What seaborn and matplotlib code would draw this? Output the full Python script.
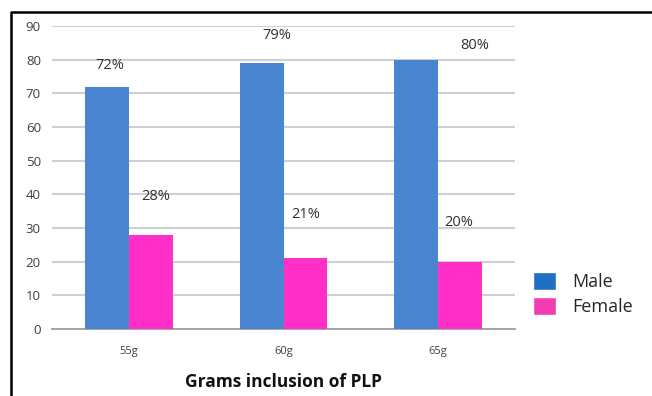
import pandas as pd
import seaborn as sns
import matplotlib.pyplot as plt
from matplotlib.lines import Line2D
from matplotlib.patches import Patch

# data
grams = ['55g', '60g', '65g']
male = [72, 79, 80]
female = [28, 21, 20]
male_labels = ['72%', '79%', '80%']
female_labels = ['28%', '21%', '20%']

# label offsets (x in category units, y in data units), placed as in the original
male_off = [(0.02, 6.4), (0.10, 8.3), (0.38, 4.3)]
female_off = [(0.03, 11.5), (0.0, 12.9), (-0.01, 11.5)]

colors = {'Male': '#4a85d2', 'Female': '#ff2fc8'}

df = pd.DataFrame({
    'grams': grams * 2,
    'value': male + female,
    'sex': ['Male'] * 3 + ['Female'] * 3,
})

sns.set_style('white')
plt.rcParams['font.family'] = ['Open Sans', 'DejaVu Sans']

fig = plt.figure(figsize=(6.52, 3.96), dpi=100)
ax = fig.add_axes([52 / 652, 1 - 329 / 396, (515 - 52) / 652, (329 - 26) / 396])

sns.barplot(data=df, x='grams', y='value', hue='sex', palette=colors,
            width=0.57, gap=0, saturation=1, linewidth=0, ax=ax,
            legend=False, zorder=3)

ax.set_ylim(0, 90)
ax.set_yticks(range(0, 91, 10))
ax.set_xlim(-0.5, 2.5)
ax.yaxis.grid(True, color='#d0d0d0', linewidth=1.5, zorder=0)
ax.set_axisbelow(True)
for s in ['top', 'right', 'left']:
    ax.spines[s].set_visible(False)
ax.spines['bottom'].set_color('#a0a0a0')
ax.spines['bottom'].set_linewidth(1.3)

ax.tick_params(axis='y', labelsize=9.5, colors='#404040', length=4, color='#d0d0d0',
               width=1.5, pad=4)
ax.tick_params(axis='x', labelsize=8, colors='#404040', length=0, pad=12)
ax.set_xticks([0.5, 1.5], minor=True)
ax.tick_params(axis='x', which='minor', length=4, color='#a0a0a0', direction='in')

ax.set_ylabel('')
ax.set_xlabel('Grams inclusion of PLP', fontsize=12.5, fontweight='bold',
              color='#111111', labelpad=12)

n = len(grams)
bars = ax.patches
for i in range(n):
    for bar, lab, off in [(bars[i], male_labels[i], male_off[i]),
                          (bars[n + i], female_labels[i], female_off[i])]:
        cx = bar.get_x() + bar.get_width() / 2
        ax.text(cx + off[0], bar.get_height() + off[1], lab, ha='center',
                va='center', fontsize=10.5, color='#303030')

handles = [Patch(facecolor='#1f6fc2', label='Male'),
           Patch(facecolor='#f23cb2', label='Female')]
fig.legend(handles=handles, loc='center left', bbox_to_anchor=(533 / 652, 1 - 294 / 396),
           frameon=False, fontsize=13, handlelength=1.3, handleheight=1.15,
           handletextpad=0.85, labelspacing=0.35, borderpad=0, borderaxespad=0)

# black frame on top and left, as in the cropped original
fig.add_artist(Line2D([11 / 652, 11 / 652, 1], [0, 1 - 12 / 396, 1 - 12 / 396],
                      color='black', linewidth=1.8, transform=fig.transFigure))

fig.savefig('out.png', dpi=100)
plt.close(fig)
